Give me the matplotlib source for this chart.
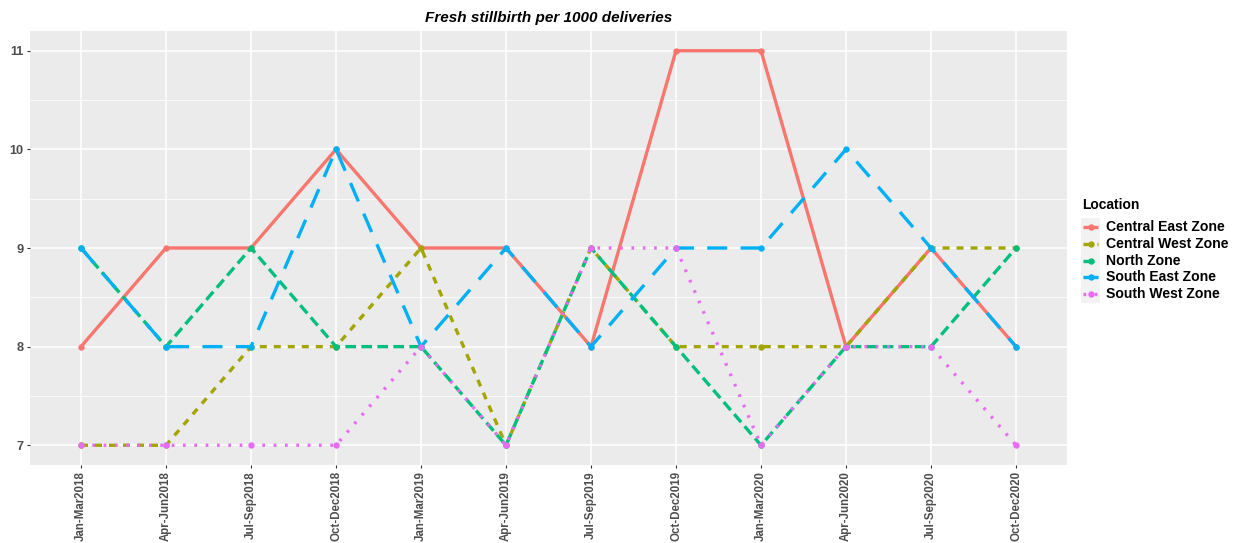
import matplotlib
matplotlib.use("Agg")
import matplotlib.pyplot as plt
from matplotlib.patches import Rectangle

quarters = ["Jan-Mar2018", "Apr-Jun2018", "Jul-Sep2018", "Oct-Dec2018",
            "Jan-Mar2019", "Apr-Jun2019", "Jul-Sep2019", "Oct-Dec2019",
            "Jan-Mar2020", "Apr-Jun2020", "Jul-Sep2020", "Oct-Dec2020"]
central_east = [8, 9, 9, 10, 9, 9, 8, 11, 11, 8, 9, 8]
central_west = [7, 7, 8, 8, 9, 7, 9, 8, 8, 8, 9, 9]
north = [9, 8, 9, 8, 8, 7, 9, 8, 7, 8, 8, 9]
south_east = [9, 8, 8, 10, 8, 9, 8, 9, 9, 10, 9, 8]
south_west = [7, 7, 7, 7, 8, 7, 9, 9, 7, 8, 8, 7]
zones = ["Central East Zone", "Central West Zone", "North Zone",
         "South East Zone", "South West Zone"]
series = [central_east, central_west, north, south_east, south_west]
colors = ["#F8766D", "#A3A500", "#00BF7D", "#00B0F6", "#E76BF3"]
dashes = [None, (2.1, 2.1), (3.2, 1.6), (6, 4), (0.8, 2.6)]

plt.rcParams['font.family'] = ['Liberation Sans', 'DejaVu Sans']

W, H = 1234, 543
fig = plt.figure(figsize=(W / 100, H / 100), dpi=100)
L, R, T, B = 30, 1067, 31, 465
ax = fig.add_axes([L / W, 1 - B / H, (R - L) / W, (B - T) / H])
ax.set_facecolor("#EBEBEB")
for s in ax.spines.values():
    s.set_visible(False)

x = list(range(len(quarters)))
lw = 2.4
for name, vals, c, d in zip(zones, series, colors, dashes):
    kw = dict(color=c, linewidth=lw, marker="o", markersize=4.6,
              markeredgewidth=0, label=name, solid_capstyle="butt",
              dash_capstyle="butt", zorder=3)
    if d is None:
        ax.plot(x, vals, linestyle="-", **kw)
    else:
        ax.plot(x, vals, linestyle=(0, d), **kw)

ax.set_xlim(-0.6, len(quarters) - 1 + 0.6)
ax.set_ylim(6.8, 11.2)
ax.set_xticks(x)
ax.set_xticklabels(quarters, rotation=90, fontsize=8.3, fontweight="bold",
                   color="#4D4D4D")
ax.set_yticks([7, 8, 9, 10, 11])
ax.set_yticks([7.5, 8.5, 9.5, 10.5], minor=True)
ax.set_yticklabels(["7", "8", "9", "10", "11"], fontsize=9.2,
                   fontweight="bold", color="#4D4D4D")
ax.tick_params(axis="both", which="major", length=2.5, width=0.8,
               color="#333333", pad=2)
ax.tick_params(axis="y", which="minor", length=0)
ax.grid(True, which="major", color="white", linewidth=1.1, zorder=0)
ax.grid(True, which="minor", axis="y", color="white", linewidth=0.55, zorder=0)
ax.set_axisbelow(True)

fig.text((L + R) / 2 / W, 1 - 18 / H, "Fresh stillbirth per 1000 deliveries",
         ha="center", va="center", fontsize=11.0, fontweight="bold",
         style="italic", color="black")

# legend
fig.text(1082 / W, 1 - 205 / H, "Location", ha="left", va="center",
         fontsize=10, fontweight="bold", color="black")
fig.patches.append(Rectangle((1081 / W, 1 - 303 / H), 19 / W, 85 / H,
                             transform=fig.transFigure, facecolor="#F2F2F2",
                             edgecolor="none", zorder=0))
y0, dy = 227, 16.8
for i, (name, c, d) in enumerate(zip(zones, colors, dashes)):
    yy = 1 - (y0 + i * dy) / H
    ls = "-" if d is None else (0, d)
    fig.add_artist(plt.Line2D([1083 / W, 1098 / W], [yy, yy], color=c,
                              linewidth=lw, linestyle=ls,
                              transform=fig.transFigure,
                              dash_capstyle="butt", solid_capstyle="butt"))
    fig.add_artist(plt.Line2D([1090.5 / W], [yy], color=c, marker="o",
                              markersize=4.6, markeredgewidth=0,
                              linestyle="none", transform=fig.transFigure))
    fig.text(1106 / W, yy, name, ha="left", va="center", fontsize=10.1,
             fontweight="bold", color="black")

fig.savefig("out.png", dpi=100, facecolor="white")
